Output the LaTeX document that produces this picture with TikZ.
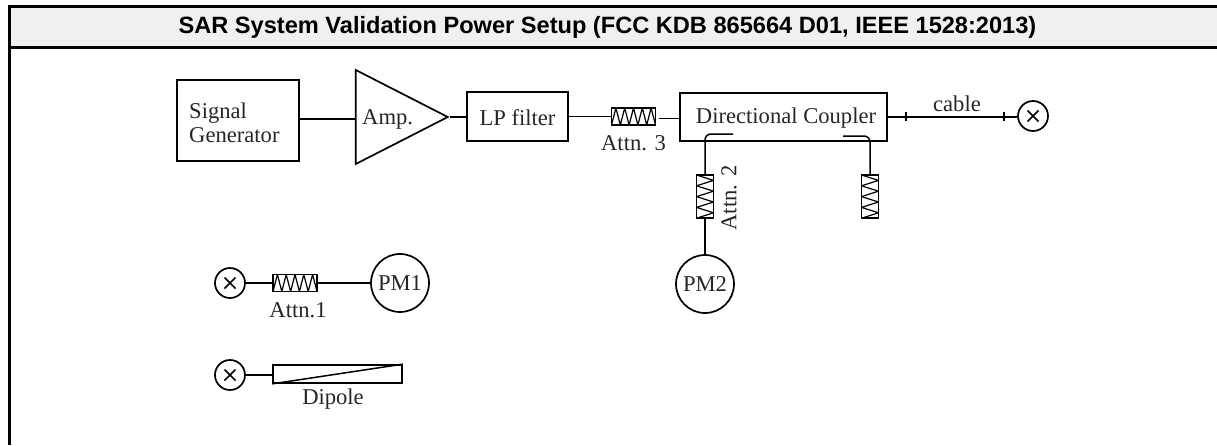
\documentclass[tikz,border=0pt]{standalone}
\usepackage{fontspec}
\setmainfont{Liberation Serif}
\setsansfont{Liberation Sans}
\usetikzlibrary{positioning}
\usetikzlibrary{shapes.geometric}

\begin{document}
\begin{tikzpicture}[
    x = 1pt, y = -1pt,
    box/.style = {shape = rectangle, draw, line width = 1.7pt, inner sep = 0pt},
    amp/.style = {shape = isosceles triangle, draw, line width = 1.7pt, isosceles triangle stretches, shape border rotate = 0, minimum width = 94pt, minimum height = 92pt, inner sep = 0pt, anchor = apex},
    meter/.style = {shape = circle, draw, line width = 1.7pt, minimum size = 58pt, inner sep = 0pt},
    probe/.style = {shape = circle, draw, line width = 1.7pt, minimum size = 30pt, inner sep = 0pt,
        path picture = {\draw[line width = 1.7pt] ([shift = {(-5.5pt,-5.5pt)}]path picture bounding box.center) -- ([shift = {(5.5pt,5.5pt)}]path picture bounding box.center)
            ([shift = {(-5.5pt,5.5pt)}]path picture bounding box.center) -- ([shift = {(5.5pt,-5.5pt)}]path picture bounding box.center);}},
    attnh/.style = {box, minimum width = 44pt, minimum height = 17pt,
        path picture = {\draw[line width = 1.2pt] (path picture bounding box.south west)
            \foreach \k in {1,...,5} {-- ++(4.4pt,17pt) -- ++(4.4pt,-17pt)};}},
    attnv/.style = {box, minimum width = 17pt, minimum height = 43pt,
        path picture = {\draw[line width = 1.2pt] (path picture bounding box.north west)
            \foreach \k in {1,...,4} {-- ++(17pt,-5.4pt) -- ++(-17pt,-5.4pt)};}},
    wire/.style = {line width = 1.5pt},
    txt/.style = {font = \fontsize{22.6}{24}\selectfont, inner sep = 0pt, text = black!85},
    ]
    % frame and heading
    \useasboundingbox (0,0) rectangle (1217,445);
    \fill[black!6] (9.5,6.5) rectangle (1217,47.5);
    \draw[line width = 3pt] (9.5,445) -- (9.5,6.5) -- (1217,6.5);
    \draw[line width = 3pt] (9.5,47.5) -- (1217,47.5);
    \node[font = \sffamily\bfseries\fontsize{23.6}{26}\selectfont, inner sep = 0pt] (title) at (607.5,27) {SAR System Validation Power Setup (FCC KDB 865664 D01, IEEE 1528:2013)};

    % top chain
    \node[box, minimum width = 122pt, minimum height = 81pt] (siggen) at (238,120.5) {};
    \node[txt, align = left, anchor = west] (siggentext) at (189,122.5) {Signal\\Generator};
    \node[amp] (amplifier) at (450,117) {};
    \node[txt, anchor = west] (amptext) at (362,119) {Amp.};
    \node[box, minimum width = 101pt, minimum height = 49pt] (lpf) at (517.5,116.5) {};
    \node[txt] (lpftext) at (517.5,117.5) {LP filter};
    \node[attnh] (attn3) at (633.5,116.5) {};
    \node[txt] (attn3text) [below = 9pt of attn3] {Attn. 3};
    \node[box, minimum width = 207pt, minimum height = 48pt] (coupler) at (783.5,117) {};
    \node[txt] (couplertext) at (786,118) {Directional Coupler};
    \node[probe] (probetop) at (1033,116) {};
    \node[txt] (cabletext) at (957,104) {cable};

    % coupler arms
    \coordinate (armleft) at (733,134);
    \coordinate (armright) at (843,136);
    \node[attnv] (attn2) at (705,196.5) {};
    \node[attnv] (attnload) at (870,196.5) {};
    \node[txt, rotate = 90] (attn2text) at (729,198) {Attn. 2};
    \node[meter, txt, line width = 1.7pt, minimum size = 58pt] (pm2) at (705,284) {PM2};

    % lower chains
    \node[probe] (probepm) at (230,283) {};
    \node[attnh] (attn1) at (295,283) {};
    \node[txt] (attn1text) at (298,310) {Attn.1};
    \node[meter, txt, line width = 1.7pt, minimum size = 58pt] (pm1) at (400,283) {PM1};
    \node[probe] (probedip) at (230,375) {};
    \node[box, minimum width = 129pt, minimum height = 18pt] (dipole) at (337.5,374) {};
    \node[txt] (dipoletext) at (333,399) {Dipole};

    \draw[wire] (siggen.east |- 0,119) -- (amplifier.lower side |- 0,119);
    \draw[wire] (amplifier.apex) -- (lpf.west |- amplifier.apex);
    \draw[wire] (lpf.east) -- (attn3.west);
    \draw[wire] (attn3.east) ++(3,2) -- (coupler.west |- 0,118.5);
    \draw[wire] (coupler.east |- 0,117) -- (probetop.west |- 0,117);
    \draw[wire] (906,112) -- (906,121) (1004,112) -- (1004,121);
    \draw[wire, rounded corners = 6pt] (armleft) -| (attn2.north);
    \draw[wire, rounded corners = 6pt] (armright) -| (attnload.north);
    \draw[wire] (attn2.south) -- (pm2.north);
    \draw[wire] (probepm.east) -- (attn1.west);
    \draw[wire] (attn1.east) -- (pm1.west);
    \draw[wire] (probedip.east) -- (dipole.west |- probedip.east);
    \draw[wire] (dipole.south west) -- (dipole.north east);
\end{tikzpicture}
\end{document}
